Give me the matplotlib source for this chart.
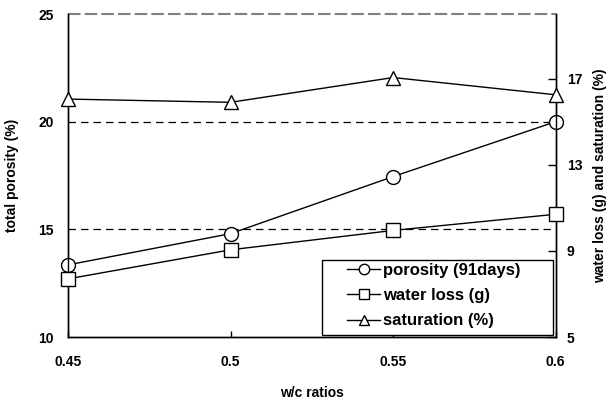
import matplotlib
matplotlib.use("Agg")
import matplotlib.pyplot as plt
from matplotlib.patches import Rectangle

plt.rcParams["font.family"] = ["Liberation Sans", "DejaVu Sans"]
plt.rcParams["font.weight"] = "bold"

wc_ratios = [0.45, 0.5, 0.55, 0.6]
x_ticklabels = ["0.45", "0.5", "0.55", "0.6"]
porosity_91d = [13.35, 14.8, 17.45, 20.0]
water_loss = [7.7, 9.05, 9.95, 10.7]
saturation = [16.05, 15.9, 17.05, 16.25]

left_ticks = [10, 15, 20, 25]
right_ticks = [5, 9, 13, 17]

fig = plt.figure(figsize=(6.16, 4.01), dpi=100)
ax = fig.add_axes([0.1104, 0.1596, 0.7916, 0.8054])
ax2 = ax.twinx()

marker_style = dict(color="black", linewidth=1.0, markersize=10,
                    markerfacecolor="white", markeredgecolor="black",
                    markeredgewidth=1.0, clip_on=False, zorder=5)

l1, = ax.plot(wc_ratios, porosity_91d, marker="o", label="porosity (91days)", **marker_style)
l2, = ax2.plot(wc_ratios, water_loss, marker="s", label="water loss (g)", **marker_style)
l3, = ax2.plot(wc_ratios, saturation, marker="^", label="saturation (%)", **marker_style)

ax.set_xlim(0.45, 0.6)
ax.set_ylim(10, 25)
ax2.set_ylim(5, 20)
ax.set_xticks(wc_ratios)
ax.set_xticklabels(x_ticklabels)
ax.set_yticks(left_ticks)
ax2.set_yticks(right_ticks)

# dashed reference lines at 15 and 20, grey dashes along the top edge
for yv in (15, 20):
    ax.axhline(yv, color="black", linestyle=(0, (6, 4)), linewidth=0.9, zorder=1)
ax.axhline(25, color="0.5", linestyle=(0, (6, 2)), linewidth=1.5, zorder=1, clip_on=False)

for a in (ax, ax2):
    a.spines["top"].set_visible(False)
    for s in ("left", "right", "bottom"):
        a.spines[s].set_linewidth(1.0)

ax.tick_params(axis="both", direction="in", length=4, width=1.0, labelsize=10)
ax.tick_params(axis="x", pad=13)
ax.tick_params(axis="y", length=0, pad=10)
ax2.tick_params(axis="y", direction="in", length=6, width=1.0, labelsize=10, pad=8)

ax.set_xlabel("w/c ratios", fontsize=10, fontweight="bold", labelpad=12)
ax.set_ylabel("total porosity (%)", fontsize=10, fontweight="bold", labelpad=14)
ax2.set_ylabel("water loss (g) and saturation (%)", fontsize=10, fontweight="bold", labelpad=8)

# legend box drawn as its own patch so the entries can sit well inside it
box = Rectangle((0.521, 0.006), 0.473, 0.232, transform=ax2.transAxes,
                facecolor="white", edgecolor="black", linewidth=1.0, zorder=8)
ax2.add_patch(box)
leg = ax2.legend(handles=[l1, l2, l3], loc="upper left",
                 bbox_to_anchor=(0.572, 0.23), fontsize=12,
                 frameon=False, handlelength=2.0, handletextpad=0.15,
                 borderpad=0, labelspacing=0.62, borderaxespad=0,
                 markerscale=0.75)
leg.set_zorder(9)

fig.savefig("out.png", dpi=100)
